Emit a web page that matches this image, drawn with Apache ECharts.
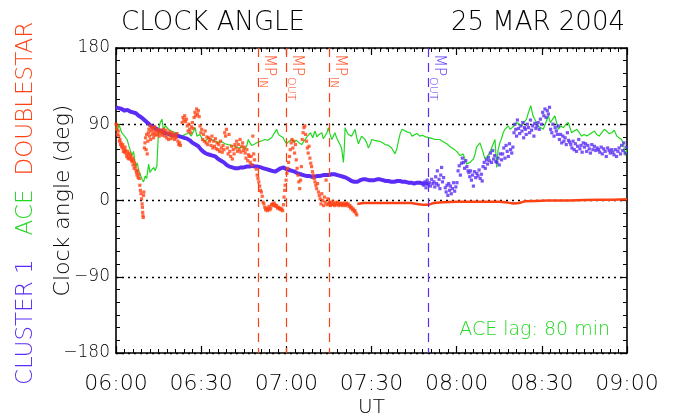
<!DOCTYPE html>
<html>
<head>
<meta charset="utf-8">
<script src="https://cdn.jsdelivr.net/npm/echarts@6/dist/echarts.min.js"></script>
<style>html,body{margin:0;padding:0;background:#fff;}#c{width:673px;height:420px;}</style>
</head>
<body>
<div id="c"></div>
<script>
// ---- tick labels ----
const xTickLabels = ['06:00','06:30','07:00','07:30','08:00','08:30','09:00'];
const yTickValues = [-180, -90, 0, 90, 180];
const yTickLabels = ['\u2212180', '\u221290', '0', '90', '180'];

// ---- magnetopause crossings (minutes after 06:00) ----
const mpTimes = [50, 60, 75, 110];
const mpSubs = ['IN', 'OUT', 'IN', 'OUT'];
const mpSpacecraft = ['ds', 'ds', 'ds', 'cl'];

// ---- Cluster 1 (minutes after 06:00, deg) : continuous part ----
const clusterLineT = [0,1,2,3,4,5,6,7,8,9,10,11,12,13,14,15,16,17,18,19,20,21,22,23,24,25,26,27,28,29,30,31,32,33,34,35,36,37,38,39,40,41,42,43,44,45,46,47,48,49,50,51,52,53,54,55,56,57,58,59,60,61,62,63,64,65,66,67,68,69,70,71,72,73,74,75,76,77,78,79,80,81,82,83,84,85,86,87,88,89,90,91,92,93,94,95,96,97,98,99,100,101,102,103,104,105,106,107,108,109,110];
const clusterLineV = [110,109,108,106,107,105,104,103,100,98,95,92,89,87,85,83,82,80,79,78,77,77,76,75,74,73,71,68,66,64,60,57,55,54,53,52,49,47,45,42,40,39,38,38,39,39,40,40,41,40,40,39,38,37,36,35,34,36,38,39,37,36,35,34,32,31,30,29,29,28,28,29,29,30,30,30,31,31,30,29,28,27,25,23,22,22,24,25,25,24,24,24,25,25,24,23,23,22,22,23,23,22,22,21,21,20,21,21,20,20,20];

// ---- Cluster 1 : scattered part [minutes, deg] ----
const clusterDots = [
[108,20],[108.4,18],[108.8,22],[109.2,15],[109.6,24],[110,19],[110.4,21],[110.8,17],[111.2,25],[111.6,20],
[112,22],[112.3,16],[112.6,28],[112.9,20],[113.2,35],[113.5,18],[113.8,25],[114.1,14],[114.4,30],[114.7,39],[115,22],[115.4,27],
[116,15],[116.3,10],[116.6,18],[116.9,6],[117.2,20],[117.5,12],[117.8,17],[118.1,8],[118.5,14],[118.9,21],[119.3,11],[119.7,16],
[120.1,21],[120.5,35],[120.9,41],[121.3,30],[121.7,44],
[122,50],[122.4,45],[122.8,38],[123.2,47],[123.6,40],[124,35],
[124.3,33],[124.6,28],[124.9,35],[125.2,24],[125.6,30],[125.9,17],[126.3,34],[126.7,27],[127.1,32],[127.5,29],[127.9,36],[128.3,26],[128.7,31],[129,23],
[129.3,40],[129.7,45],[130.1,38],[130.5,48],[130.9,43],
[131.2,51],[131.5,47],[131.9,56],[132.3,45],[132.7,59],[133,49],[133.4,53],[133.8,46],
[134.2,45],[134.6,50],[135,42],[135.4,55],[135.8,48],
[136.2,55],[136.6,62],[137,50],[137.4,65],[137.8,58],[138.2,52],[138.6,67],[139,60],[139.4,56],[139.8,63],
[140.2,80],[140.5,90],[140.8,84],[141.1,76],[141.4,95],[141.8,85],[142.2,79],[142.6,88],[143,82],[143.3,92],[143.6,74],[143.9,86],
[144.2,84],[144.5,78],[144.9,90],[145.3,86],[145.7,80],[146,95],[146.4,83],[146.8,88],[147.2,76],[147.5,91],[147.9,85],
[148.3,88],[148.7,92],[149.1,84],[149.5,96],[149.9,90],
[150.3,104],[150.7,100],[151.1,108],[151.5,98],[151.9,106],[152.3,102],[152.7,110],
[153.1,84],[153.5,80],[153.9,90],[154.3,76],[154.7,86],[155.1,82],[155.5,78],[155.8,88],
[156.2,72],[156.6,78],[157,68],[157.4,76],[157.8,70],[158.2,74],[158.6,66],[159,80],[159.4,71],[159.8,69],
[160.2,66],[160.6,62],[161,70],[161.4,60],[161.8,67],[162.2,58],[162.6,64],[163,72],[163.4,61],[163.8,65],[164.2,57],[164.6,68],
[165,63],[165.4,67],[165.8,58],[166.2,65],[166.7,61],[167.1,56],[167.6,66],[168,60],[168.5,64],[169,59],[169.5,62],
[170,60],[170.4,57],[170.9,63],[171.3,55],[171.8,61],[172.3,58],[172.7,52],[173.2,62],[173.7,59],[174.1,56],[174.6,60],
[175,57],[175.4,54],[175.9,60],[176.3,52],[176.8,58],[177.2,62],[177.7,55],[178.1,65],[178.5,59],[178.9,68],[179.3,56],[179.8,63]
];

// ---- ACE (lagged 80 min) [minutes, deg] ----
const aceData = [
[0,88],[0.5,82],[1,90],[2,80],[3,76],[3.9,72],[4.5,65],[5.6,53],[6.2,58],[6.8,41],[7.5,44],[8,35],[8.6,30],[9.2,25],[9.7,22],[10.3,29],[10.8,26],[11.5,43],[12,33],[12.5,36],[13.3,39],[13.8,35],[14.4,41],[15,84],[15.6,92],[16.2,96],[16.7,84],[17.5,88],[18.5,84],[19.5,82],[20.9,80],[22,78],[23.2,76],[24.5,78],[25.6,80],[26.5,76],[27.9,86],[28.5,76],[29.5,78],[30.5,72],[31.5,70],[32.5,74],[33.7,72],[35,70],[36,68],[37,70],[38.4,67],[39.5,66],[40.7,65],[42,64],[43.1,62],[44,63],[45.4,61],[46,64],[46.6,72],[47.2,68],[47.8,65],[49,67],[50.1,69],[51,70],[52.5,72],[53.5,71],[54.8,74],[55.5,76],[56.6,84],[57.2,78],[58,76],[58.9,74],[59.5,70],[60.1,67],[61,70],[61.9,72],[62.8,69],[63.6,71],[64.5,68],[65.4,66],[66.2,70],[67,74],[67.7,76],[68.5,80],[69.3,74],[70.1,82],[70.8,75],[71.5,78],[72.5,80],[73,73],[73.6,76],[74.3,80],[74.8,86],[75.4,78],[76,72],[76.6,76],[77.1,80],[77.7,74],[78.3,70],[78.9,66],[79.5,61],[80.1,45],[80.4,60],[80.7,86],[81.2,82],[81.8,78],[82.4,80],[83,76],[83.6,80],[84.2,84],[84.8,74],[85.4,67],[86,72],[86.5,76],[87.1,74],[87.7,72],[88.3,68],[88.9,62],[89.5,66],[90.1,72],[91,71],[92.4,70],[93.5,69],[94.8,66],[96,65],[97.1,62],[97.8,58],[98.3,55],[99,62],[99.6,72],[100.2,80],[100.8,84],[101.5,82],[102.5,81],[103.6,80],[104.3,76],[105,78],[106,79],[107,76],[108,77],[109,75],[110.6,74],[111.5,73],[112.5,72],[114.1,72],[115,70],[116.5,67],[117.5,64],[118.8,61],[120,58],[121.2,53],[122.3,55],[123,48],[123.5,43],[124.7,45],[125.9,49],[126.5,55],[127,63],[127.6,65],[128.2,68],[129,60],[130,49],[130.8,52],[131.7,57],[132.3,62],[132.9,67],[133.5,72],[134.1,39],[134.6,60],[135.2,68],[135.8,73],[136.4,80],[137,84],[137.6,82],[138.2,88],[138.8,84],[139.4,86],[140.2,88],[141.1,92],[142,90],[142.9,88],[143.7,92],[144.6,96],[145.3,104],[146.1,112],[146.9,100],[147.5,96],[148.1,92],[148.7,88],[149.6,86],[150.5,84],[151.4,92],[152.3,100],[153,92],[153.8,96],[154.6,100],[155.2,92],[155.8,84],[156.7,88],[157.6,86],[158.5,90],[159.3,92],[160.5,80],[161.4,82],[162.3,84],[163.2,80],[164,76],[164.9,78],[165.8,76],[166.7,78],[167.6,80],[168.5,82],[169.3,78],[170.2,76],[171.1,80],[172,84],[172.8,82],[173.7,79],[174.6,80],[175.5,83],[176.4,76],[177.2,74],[178.1,72],[178.8,66],[179.4,53],[180,60]
];

// ---- Double Star (scattered part) [minutes, deg] ----
const doubleStarDots = [
[0,90],[0.2,84],[0.4,88],[0.6,78],[0.8,82],[1,76],[1.2,70],[1.4,72],[1.6,66],[1.8,68],[2,64],
[2.2,62],[2.4,66],[2.6,58],[2.8,61],[3,57],[3.2,63],[3.4,59],
[3.6,55],[3.8,52],[4,58],[4.2,50],[4.4,54],[4.6,49],[4.8,56],[5,51],[5.2,53],[5.4,48],
[5.6,46],[5.8,50],[6,42],[6.2,47],[6.4,38],[6.6,44],[6.8,40],
[7,36],[7.2,33],[7.4,30],[7.6,35],[7.8,27],[8,31],[8.2,26],
[8.4,18],[8.6,12],[8.8,8],[9,2],[9.2,-4],[9.3,-8],[9.4,-14],[9.5,-18],[9.6,-20],[9.7,6],[9.8,10],
[10,62],[10.2,68],[10.4,74],[10.6,60],[10.8,78],[11,55],[11.2,70],[11.4,80],
[11.6,84],[11.8,76],[12,88],[12.2,72],[12.4,82],[12.6,86],[12.8,78],[13,84],[13.2,74],[13.4,80],[13.6,87],[13.8,77],
[14,82],[14.3,78],[14.6,84],[14.9,80],[15.2,76],[15.5,83],[15.8,79],[16.1,81],[16.4,77],[16.7,84],
[17,80],[17.3,76],[17.6,83],[17.9,74],[18.2,79],[18.5,72],[18.8,81],[19.1,77],[19.4,73],[19.7,80],[20,75],[20.3,78],[20.6,72],[20.9,76],[21.2,74],[21.5,79],[21.8,70],
[22.1,66],[22.4,68],[22.7,65],
[23.3,92],[23.6,98],[23.9,95],[24.2,100],[24.5,93],[24.8,96],
[25.1,88],[25.4,82],[25.7,90],[26,84],[26.3,80],[26.6,87],[26.9,92],[27.2,85],
[27.5,98],[27.8,104],[28.1,100],[28.4,108],[28.7,102],[29,106],[29.3,99],
[29.6,88],[29.9,80],[30.2,84],[30.5,72],[30.8,78],[31.1,70],[31.4,82],[31.7,68],[32,75],[32.3,66],[32.6,74],[32.9,70],
[33.2,72],[33.5,65],[33.8,76],[34.1,62],[34.4,70],[34.7,64],[35,73],[35.3,61],[35.6,68],
[35.9,60],[36.2,66],[36.5,58],[36.8,70],[37.1,62],[37.4,57],[37.7,65],[38,60],
[38.3,80],[38.6,76],[38.9,84],[39.2,62],[39.5,55],[39.8,78],
[40.1,58],[40.4,52],[40.7,64],[41,49],[41.3,60],[41.6,55],[41.9,66],
[42.2,62],[42.5,70],[42.8,58],[43.1,66],[43.4,60],[43.7,72],[44,57],[44.3,64],[44.6,68],[44.9,59],[45.2,63],
[45.5,56],[45.8,50],[46.1,60],[46.4,47],[46.7,54],[47,52],
[47.3,45],[47.6,52],[47.9,42],[48.2,76],[48.5,55],[48.8,48],
[49.4,37],[49.7,30],[50,26],[50.3,22],[50.6,17],[50.9,12],[51.2,10],
[51.5,5],[51.8,-2],[52.1,-4],
[52.4,-8],[52.7,-11],[53,-9],[53.3,-12],[53.6,-10],[53.9,-7],[54.2,-11],[54.5,-9],[54.8,-5],[55.1,-4],[55.4,-6],[55.7,-3],[56,-5],[56.3,-7],[56.6,-6],[56.9,-9],[57.2,-8],[57.5,-10],[57.8,-9],[58.1,-11],[58.4,-10],[58.7,-12],
[59,-5],[59.2,4],[59.4,12],[59.6,18],
[59.9,24],[60.2,32],[60.5,38],[60.8,45],
[61.1,52],[61.4,60],[61.7,68],[62,72],[62.3,62],[62.6,70],[62.9,56],[63.2,66],
[63.5,48],[63.8,38],[64.1,30],[64.4,22],[64.7,14],[65,24],[65.3,40],
[65.6,72],[65.9,80],[66.2,86],[66.5,88],[66.8,78],[67.1,70],
[67.4,62],[67.7,56],[68,64],[68.3,50],[68.6,44],[68.9,40],
[69.2,34],[69.5,30],[69.8,26],[70.1,22],[70.4,18],[70.7,14],[71,20],
[71.3,10],[71.6,6],[71.9,2],[72.2,-4],[72.5,8],[72.8,0],[73.1,-6],[73.4,4],[73.7,-2],[74,24],[74.3,-5],[74.6,2],[74.9,-4],
[75.2,-2],[75.5,-6],[75.8,-3],[76.1,-5],[76.4,-1],[76.7,-4],[77,-6],[77.3,-3],[77.6,-5],[77.9,-2],[78.2,-4],[78.5,-6],[78.8,-3],[79.1,-5],[79.4,-4],[79.7,-6],[80,-3],[80.3,-5],[80.6,-4],[80.9,-6],[81.2,-3],[81.5,-5],[81.8,-4],[82.1,-7],
[82.4,-6],[82.7,-9],[83,-8],[83.3,-11],[83.6,-10],[83.9,-13],[84.2,-12],[84.5,-15],[84.8,-17]
];

// ---- Double Star (steady part) ----
const doubleStarLineT = [85,87,90,95,100,104,106,108,110,112,115,120,125,130,135,138,140,142,144,148,152,155,160,165,170,175,180];
const doubleStarLineV = [-4,-3,-3,-3,-3,-3,-4,-5,-5,-3,-2,-1.5,-1.5,-1.5,-1.5,-2.5,-3.5,-3,-1,-0.5,0,0,0,0.5,1,1,1.5];

// ---- colours / fonts ----
const PURPLE = '#5a2cf5';
const GREEN = '#22d822';
const ORANGE = '#ff4214';
const INK = '#000';
const FONT = 'DejaVu Sans';
const FW = 200;

const zip = (t, v) => t.map((x, i) => [x, v[i]]);

const mpLineData = mpTimes.map((t, i) => {
  const col = mpSpacecraft[i] === 'cl' ? PURPLE : ORANGE;
  return [
    { coord: [t, 180], lineStyle: { color: col }, label: {
        formatter: '{a|MP}{b|' + mpSubs[i] + '}',
        rich: {
          a: { fontSize: 15, color: col, fontFamily: FONT, fontWeight: FW, lineHeight: 20, verticalAlign: 'bottom' },
          b: { fontSize: 11, color: col, fontFamily: FONT, fontWeight: FW, lineHeight: 14, verticalAlign: 'bottom', padding: [0, 0, -4, 1] }
        } } },
    { coord: [t, -180] }
  ];
});

const chart = echarts.init(document.getElementById('c'), null, { renderer: 'canvas' });
const axisCommon = {
  type: 'value',
  axisLine: { show: true, onZero: false, lineStyle: { color: '#000', width: 1.6 } },
  axisTick: { show: true, inside: true, length: 7, lineStyle: { color: '#000', width: 1.2 } }
};
const txt = (size, color) => ({ fontFamily: FONT, fontSize: size, fontWeight: FW, color: color });

chart.setOption({
  animation: false,
  backgroundColor: '#fff',
  title: [
    { text: 'CLOCK ANGLE', left: 116, top: 5, textStyle: txt(26, INK) },
    { text: '25 MAR 2004', right: 43, top: 5, textStyle: txt(26, INK) },
    { text: 'ACE lag: 80 min', right: 58, top: 316, textStyle: txt(19, GREEN) }
  ],
  grid: { left: 116, right: 46, top: 48, bottom: 67, containLabel: false, outerBoundsMode: 'none' },
  xAxis: [
    Object.assign({}, axisCommon, {
      position: 'bottom', min: 0, max: 180, interval: 30,
      minorTick: { show: true, splitNumber: 10, length: 4, lineStyle: { color: '#000', width: 1 } },
      splitLine: { show: false },
      name: 'UT', nameLocation: 'middle', nameGap: 45, nameMoveOverlap: false,
      nameTextStyle: txt(20, INK),
      axisLabel: Object.assign({ margin: 20, formatter: v => xTickLabels[Math.round(v / 30)] }, txt(22, INK))
    }),
    Object.assign({}, axisCommon, {
      position: 'top', min: 0, max: 180, interval: 30,
      minorTick: { show: true, splitNumber: 10, length: 4, lineStyle: { color: '#000', width: 1 } },
      splitLine: { show: false }, axisLabel: { show: false }
    })
  ],
  yAxis: [
    Object.assign({}, axisCommon, {
      position: 'left', min: -180, max: 180, interval: 90,
      minorTick: { show: true, splitNumber: 6, length: 4, lineStyle: { color: '#000', width: 1 } },
      splitLine: { show: true, lineStyle: { color: '#000', type: [2, 4], width: 1.3 } },
      axisLabel: Object.assign({ margin: 6, formatter: v => yTickLabels[yTickValues.indexOf(v)] }, txt(17, INK)),
      name: 'Clock angle (deg)',
      nameLocation: 'middle', nameRotate: 90, nameGap: 42, nameMoveOverlap: false,
      nameTextStyle: txt(22, INK)
    }),
    Object.assign({}, axisCommon, {
      position: 'right', min: -180, max: 180, interval: 90,
      minorTick: { show: true, splitNumber: 6, length: 4, lineStyle: { color: '#000', width: 1 } },
      splitLine: { show: false }, axisLabel: { show: false }
    }),
    {
      type: 'value', position: 'left', min: -180, max: 180, interval: 90,
      axisLine: { show: false }, axisTick: { show: false }, axisLabel: { show: false }, splitLine: { show: false },
      name: '{p|CLUSTER 1}{g|ACE}{o|DOUBLESTAR}',
      nameLocation: 'middle', nameRotate: 90, nameGap: 78, nameMoveOverlap: false,
      nameTextStyle: {
        rich: {
          p: Object.assign({ padding: [0, 24, 0, 0] }, txt(23, PURPLE)),
          g: Object.assign({ padding: [0, 14, 0, 0] }, txt(23, GREEN)),
          o: Object.assign({ padding: [0, 6, 0, 0] }, txt(23, ORANGE))
        }
      }
    }
  ],
  series: [
    { name: 'ACE', type: 'line', data: aceData, symbol: 'none', lineStyle: { color: GREEN, width: 1.2 }, z: 2 },
    { name: 'Cluster line', type: 'line', data: zip(clusterLineT, clusterLineV), symbol: 'none', lineStyle: { color: PURPLE, width: 4 }, z: 3 },
    { name: 'Cluster dots', type: 'scatter', data: clusterDots, symbol: 'rect', symbolSize: 3.2, itemStyle: { color: PURPLE }, z: 3 },
    { name: 'DS line', type: 'line', data: zip(doubleStarLineT, doubleStarLineV), symbol: 'none', lineStyle: { color: ORANGE, width: 2.5 }, z: 4 },
    { name: 'DS dots', type: 'scatter', data: doubleStarDots, symbol: 'rect', symbolSize: 3.2, itemStyle: { color: ORANGE }, z: 4,
      markLine: {
        silent: true, symbol: 'none',
        lineStyle: { type: [9, 6], width: 1.2 },
        label: { show: true, position: 'insideStartTop', distance: [6, 3] },
        data: mpLineData
      }
    }
  ]
});
</script>
</body>
</html>
